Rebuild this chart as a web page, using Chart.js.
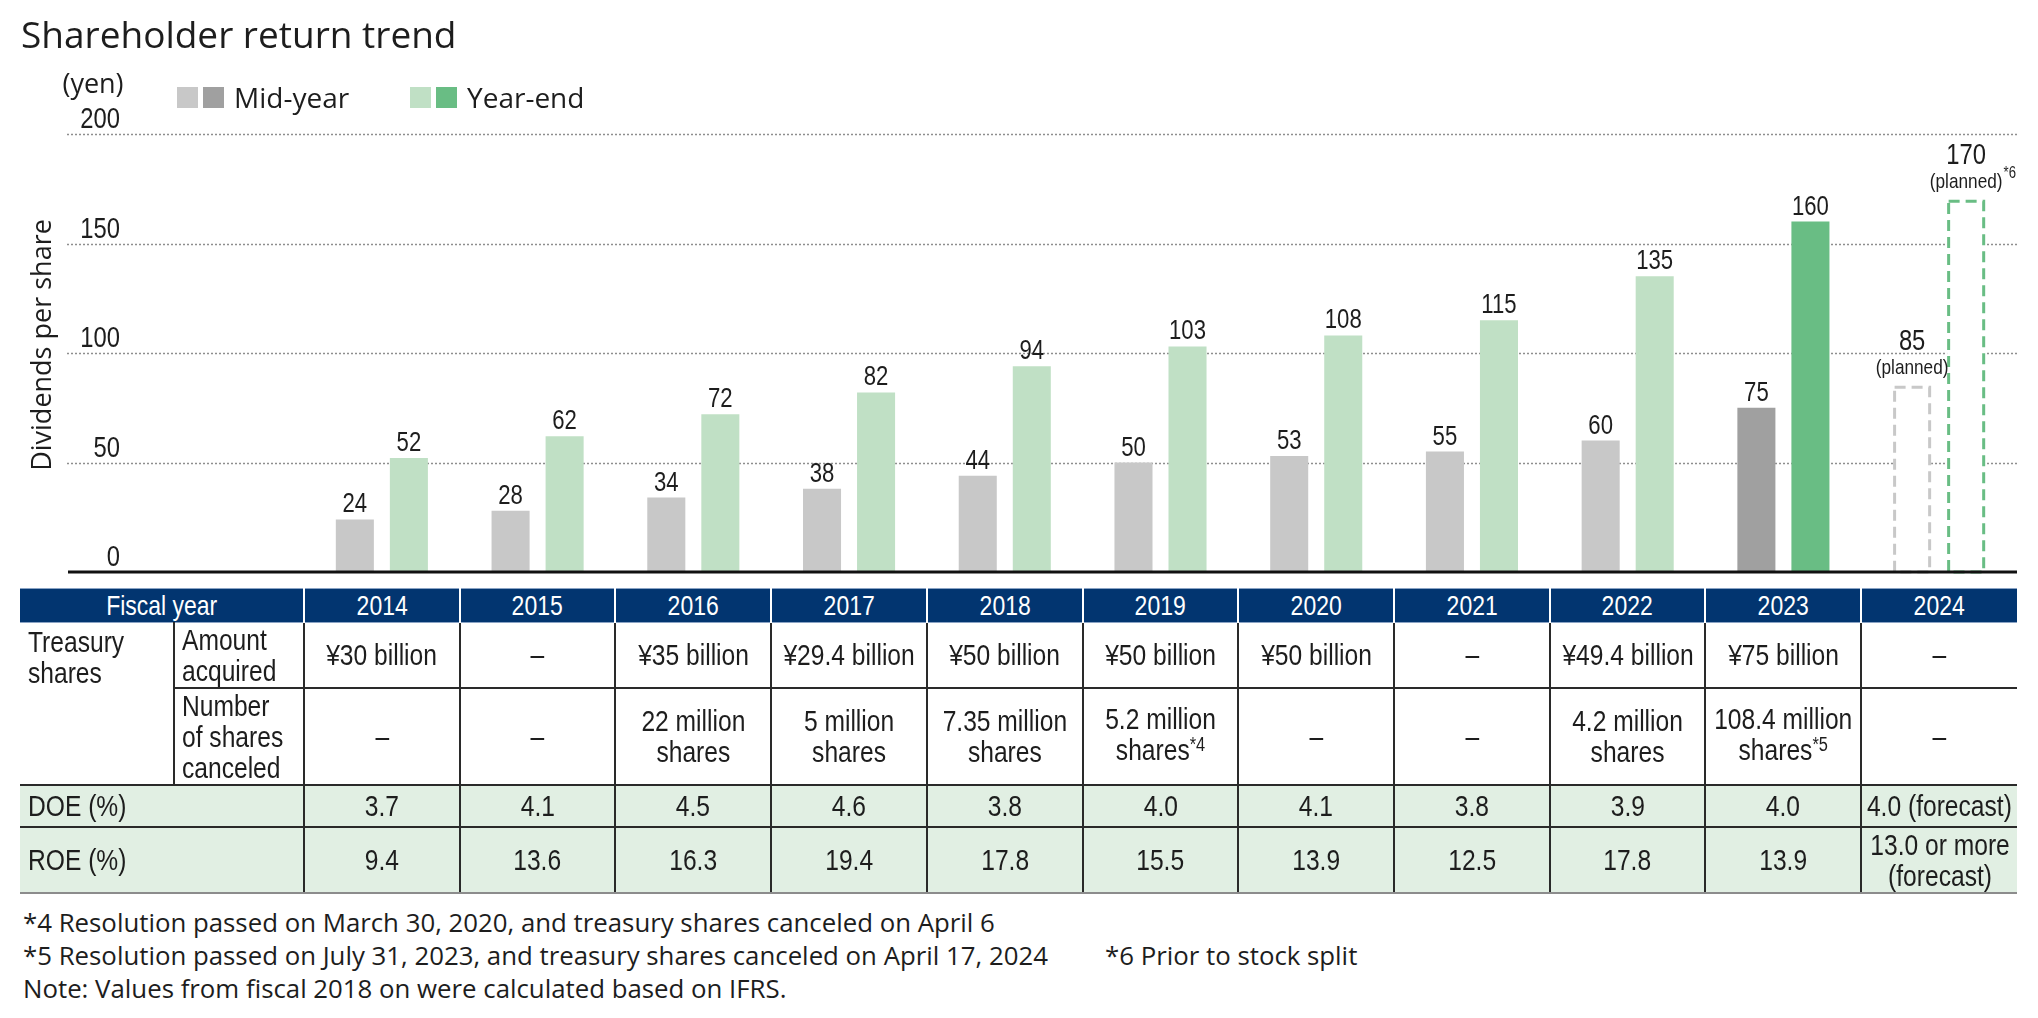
<!DOCTYPE html>
<html>
<head>
<meta charset="utf-8">
<title>Shareholder return trend</title>
<script src="https://cdn.jsdelivr.net/npm/chart.js@4.4.1/dist/chart.umd.min.js"></script>
<style>
  html, body { margin: 0; padding: 0; background: #fff; }
  #wrap { position: relative; width: 2038px; height: 1018px; overflow: hidden; color: #1d1d1d; }
  #title { position: absolute; left: 21px; top: 15px; font: 37px/37px 'Open Sans', 'Noto Sans', sans-serif; white-space: nowrap; }
  #chart { position: absolute; left: 0; top: 0; }
  #tbl { position: absolute; left: 20px; top: 588px; width: 1997px; table-layout: fixed; border-collapse: collapse;
         font-family: 'Liberation Sans', Arial, sans-serif; font-size: 30px; }
  #tbl th, #tbl td { padding: 0; text-align: center; vertical-align: middle; line-height: 31px; white-space: nowrap; }
  #tbl th { background: #023570; color: #fff; font-weight: normal; font-size: 28px; border-left: 2px solid #fff;
            border-top: 1px solid #8aa3c4; border-bottom: 1px solid #8aa3c4; }
  #tbl th:first-child { border-left: none; }
  #tbl td { border-left: 2px solid #2a2a2a; border-top: 2px solid #2a2a2a; }
  #tbl tr.first td { border-top: none; }
  #tbl td.lab { text-align: left; padding-left: 8px; border-left: none; }
  #tbl td.treas { vertical-align: top; padding-top: 3px; border-right: 2px solid #2a2a2a; }
  #tbl td.sub { text-align: left; padding-left: 7px; border-left: 2px solid #2a2a2a; }
  #tbl tr.green td { background: #e1efe3; }
  #tbl tr.last td { border-bottom: 2px solid #8c8c8c; }
  /* Liberation Sans squeezed to a narrow face */
  .nw { display: inline-block; transform: scaleX(0.82); margin: 0 -40px; }
  .lab .nw, .sub .nw { transform-origin: left center; margin: 0 -40px 0 0; }
  #tbl .sup { font-size: 20px; position: relative; top: -9px; }
  #notes { position: absolute; left: 23px; top: 906px; font: 25.8px/33px 'Open Sans', 'Noto Sans', sans-serif; white-space: nowrap; }
  #notes .gap { position: absolute; left: 1082px; }
</style>
</head>
<body>
<div id="wrap">
  <canvas id="chart" width="2038" height="590"></canvas>
  <div id="title">Shareholder return trend</div>
  <table id="tbl"></table>
  <div id="notes">
    <div>*4 Resolution passed on March 30, 2020, and treasury shares canceled on April 6</div>
    <div>*5 Resolution passed on July 31, 2023, and treasury shares canceled on April 17, 2024<span class="gap">*6 Prior to stock split</span></div>
    <div>Note: Values from fiscal 2018 on were calculated based on IFRS.</div>
  </div>
</div>
<script>
const fiscalYears = ['2014', '2015', '2016', '2017', '2018', '2019', '2020', '2021', '2022', '2023', '2024'];
const midYear = [24, 28, 34, 38, 44, 50, 53, 55, 60, 75, 85];
const yearEnd = [52, 62, 72, 82, 94, 103, 108, 115, 135, 160, 170];
const yTicks = [0, 50, 100, 150, 200];

const amountAcquired = ['¥30 billion', '–', '¥35 billion', '¥29.4 billion', '¥50 billion', '¥50 billion', '¥50 billion', '–', '¥49.4 billion', '¥75 billion', '–'];
const sharesCanceled = ['–', '–', '22 million|shares', '5 million|shares', '7.35 million|shares', '5.2 million|shares*4', '–', '–', '4.2 million|shares', '108.4 million|shares*5', '–'];
const doe = ['3.7', '4.1', '4.5', '4.6', '3.8', '4.0', '4.1', '3.8', '3.9', '4.0', '4.0 (forecast)'];
const roe = ['9.4', '13.6', '16.3', '19.4', '17.8', '15.5', '13.9', '12.5', '17.8', '13.9', '13.0 or more|(forecast)'];

const LATEST = 9;   // fiscal 2023, darker bars
const PLANNED = 10; // fiscal 2024, dashed outline bars
const NARROW = "'Liberation Sans', Arial, sans-serif";
const SQUEEZE = 0.82;
const SANS = "'Open Sans', 'Noto Sans', sans-serif";
const INK = '#1d1d1d';
const GRID_LEFT = 67;

const midColors = { light: '#c8c8c8', dark: '#a0a0a0' };
const endColors = { light: '#c0e0c5', dark: '#69bd84' };

// table built from the arrays above
function cell(txt) {
  return '<span class="nw">' + txt.split('|').join('<br>').replace(/\*(\d)/, '<span class="sup">*$1</span>') + '</span>';
}
const tbl = document.getElementById('tbl');
let html = '<colgroup><col style="width:154px"><col style="width:130px">' +
  fiscalYears.map(() => '<col>').join('') + '</colgroup>';
html += '<tr style="height:34px"><th colspan="2">' + cell('Fiscal year') + '</th>' + fiscalYears.map(y => '<th>' + cell(y) + '</th>').join('') + '</tr>';
html += '<tr class="first" style="height:65px"><td class="lab treas" rowspan="2">' + cell('Treasury|shares') + '</td><td class="sub">' + cell('Amount|acquired') + '</td>' +
  amountAcquired.map(v => '<td>' + cell(v) + '</td>').join('') + '</tr>';
html += '<tr style="height:97px"><td class="sub">' + cell('Number|of shares|canceled') + '</td>' +
  sharesCanceled.map(v => '<td>' + cell(v) + '</td>').join('') + '</tr>';
html += '<tr class="green" style="height:42px"><td class="lab" colspan="2">' + cell('DOE (%)') + '</td>' +
  doe.map(v => '<td>' + cell(v) + '</td>').join('') + '</tr>';
html += '<tr class="green last" style="height:66px"><td class="lab" colspan="2">' + cell('ROE (%)') + '</td>' +
  roe.map(v => '<td>' + cell(v) + '</td>').join('') + '</tr>';
tbl.innerHTML = html;

function narrowText(ctx, text, x, y, size, align) {
  ctx.save();
  ctx.translate(x, y);
  ctx.scale(SQUEEZE, 1);
  ctx.font = size + 'px ' + NARROW;
  ctx.textAlign = align;
  ctx.textBaseline = 'alphabetic';
  ctx.fillText(text, 0, 0);
  const w = ctx.measureText(text).width * SQUEEZE;
  ctx.restore();
  return w;
}

const decor = {
  id: 'decor',
  beforeDatasetsDraw(chart) {
    const { ctx, chartArea, scales: { y } } = chart;
    ctx.save();
    // dotted grid lines running under the tick labels
    ctx.strokeStyle = '#8e8e8e';
    ctx.lineWidth = 1.5;
    ctx.setLineDash([2, 2]);
    y.ticks.forEach(t => {
      if (t.value === 0) return;
      const py = Math.round(y.getPixelForValue(t.value)) + 0.5;
      ctx.beginPath();
      ctx.moveTo(GRID_LEFT, py);
      ctx.lineTo(chartArea.right, py);
      ctx.stroke();
    });
    ctx.setLineDash([]);
    // tick labels sit above their lines
    ctx.fillStyle = INK;
    y.ticks.forEach(t => {
      narrowText(ctx, String(t.value), 120, y.getPixelForValue(t.value) - 6, 29, 'right');
    });
    ctx.font = '27px ' + SANS;
    ctx.textAlign = 'center';
    ctx.textBaseline = 'alphabetic';
    ctx.fillText('(yen)', 93, 93);
    // axis title
    ctx.save();
    ctx.translate(51, (y.top + y.bottom) / 2 - 8);
    ctx.rotate(-Math.PI / 2);
    ctx.fillText('Dividends per share', 0, 0);
    ctx.restore();
    // legend with paired swatches
    const items = [
      { x: 177, colors: [midColors.light, midColors.dark], text: 'Mid-year' },
      { x: 410, colors: [endColors.light, endColors.dark], text: 'Year-end' }
    ];
    ctx.textAlign = 'left';
    ctx.font = '28px ' + SANS;
    items.forEach(it => {
      it.colors.forEach((c, i) => {
        ctx.fillStyle = c;
        ctx.fillRect(it.x + i * 26, 87, 21, 21);
      });
      ctx.fillStyle = INK;
      ctx.fillText(it.text, it.x + 57, 108);
    });
    ctx.restore();
  },
  afterDatasetsDraw(chart) {
    const { ctx, chartArea, scales: { y } } = chart;
    ctx.save();
    // dashed outlines for the planned year
    [midColors.light, endColors.dark].forEach((col, di) => {
      const bar = chart.getDatasetMeta(di).data[PLANNED];
      const p = bar.getProps(['x', 'y', 'base', 'width'], true);
      ctx.strokeStyle = col;
      ctx.lineWidth = 3;
      ctx.setLineDash([11, 6]);
      ctx.strokeRect(p.x - p.width / 2 + 1.5, p.y + 1.5, p.width - 3, p.base - p.y - 1.5);
    });
    ctx.setLineDash([]);
    // baseline
    const by = y.getPixelForValue(0);
    ctx.strokeStyle = '#111';
    ctx.lineWidth = 3;
    ctx.beginPath();
    ctx.moveTo(GRID_LEFT + 1, by);
    ctx.lineTo(chartArea.right, by);
    ctx.stroke();
    // value labels
    ctx.fillStyle = INK;
    chart.data.datasets.forEach((ds, di) => {
      chart.getDatasetMeta(di).data.forEach((bar, i) => {
        const p = bar.getProps(['x', 'y'], true);
        if (i === PLANNED) {
          narrowText(ctx, String(ds.data[i]), p.x, p.y - 36, 29, 'center');
          const w = narrowText(ctx, '(planned)', p.x, p.y - 12, 21, 'center');
          if (di === 1) narrowText(ctx, '*6', p.x + w / 2 + 1, p.y - 22, 16, 'left');
        } else {
          narrowText(ctx, String(ds.data[i]), p.x, p.y - 7, 27, 'center');
        }
      });
    });
    ctx.restore();
  }
};

function barColor(set) {
  return c => c.dataIndex === PLANNED ? '#ffffff' : (c.dataIndex === LATEST ? set.dark : set.light);
}

new Chart(document.getElementById('chart').getContext('2d'), {
  type: 'bar',
  data: {
    labels: fiscalYears,
    datasets: [
      { label: 'Mid-year', data: midYear, backgroundColor: barColor(midColors), borderWidth: 0 },
      { label: 'Year-end', data: yearEnd, backgroundColor: barColor(endColors), borderWidth: 0 }
    ]
  },
  options: {
    responsive: false,
    devicePixelRatio: 1,
    animation: false,
    categoryPercentage: 0.694,
    barPercentage: 0.704,
    layout: { padding: { left: 304, right: 21, top: 134, bottom: 18 } },
    plugins: { legend: { display: false }, tooltip: { enabled: false } },
    scales: {
      x: { display: false },
      y: { display: false, min: 0, max: 200, afterBuildTicks: s => { s.ticks = yTicks.map(v => ({ value: v })); } }
    }
  },
  plugins: [decor]
});
</script>
</body>
</html>
